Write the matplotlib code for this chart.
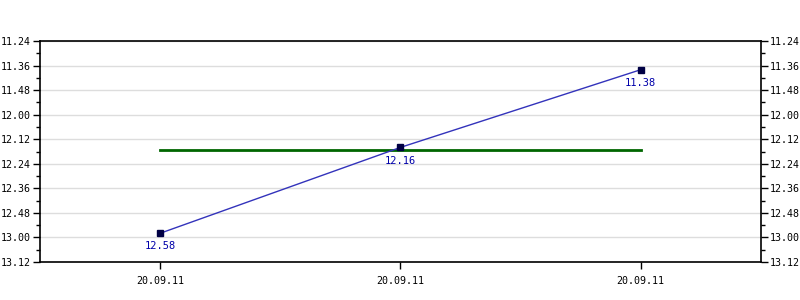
import matplotlib.pyplot as plt
from matplotlib.ticker import MultipleLocator, FuncFormatter

# data
dates = ["20.09.11", "20.09.11", "20.09.11"]
values = ["12.58", "12.16", "11.38"]   # hh.mm
y_top = "11.24"
y_bottom = "13.12"


def to_min(s):
    h, m = s.split(".")
    return int(h) * 60 + int(m)


def fmt(v, pos=None):
    v = int(round(v))
    return "%d.%02d" % (v // 60, v % 60)


mins = [to_min(v) for v in values]
avg = sum(mins) / len(mins)
x = list(range(len(values)))

plt.rcParams['font.family'] = ['DejaVu Sans Mono']
plt.rcParams['font.size'] = 7.2

fig = plt.figure(figsize=(8, 3), dpi=100)
ax = fig.add_axes([0.05, 0.127, 0.901, 0.736])

ax.plot(x, mins, color='#3333bb', lw=1, zorder=3)
ax.plot(x, mins, ls='none', marker='s', ms=4, mfc='#000044', mec='#000044', zorder=4)
ax.plot([x[0], x[-1]], [avg, avg], color='#006600', lw=2, zorder=2)

for xi, m, lab in zip(x, mins, values):
    ax.annotate(lab, (xi, m), xytext=(0, -9.5), textcoords='offset points',
                ha='center', va='center', color='#0000aa', fontsize=7.5)

ax.set_xlim(-0.5, 2.5)
ax.set_ylim(to_min(y_bottom), to_min(y_top))
ax.set_xticks(x)
ax.set_xticklabels(dates)
ax.yaxis.set_major_locator(MultipleLocator(12))
ax.yaxis.set_minor_locator(MultipleLocator(6))
ax.yaxis.set_major_formatter(FuncFormatter(fmt))
ax.tick_params(axis='y', which='both', left=True, right=True, labelleft=True, labelright=True)
ax.tick_params(which='major', length=5, width=1, color='black')
ax.tick_params(which='minor', length=3, width=1)
ax.tick_params(axis='y', pad=1.5)
ax.tick_params(axis='x', pad=5)

ax.grid(axis='y', which='major', color='#dddddd', lw=1)
ax.set_axisbelow(True)
for s in ax.spines.values():
    s.set_linewidth(1.2)

fig.savefig('out.png', dpi=100)
